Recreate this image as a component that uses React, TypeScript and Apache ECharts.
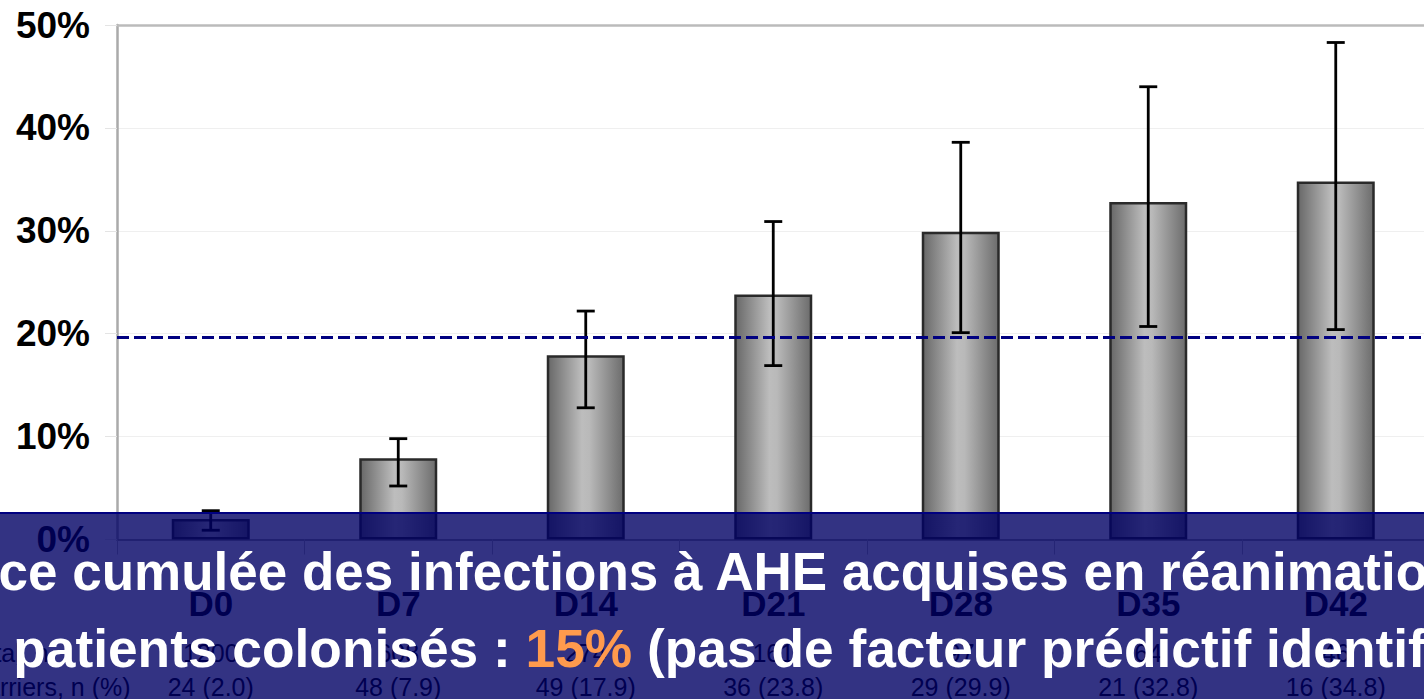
import React, { useEffect, useRef } from "react";
import * as echarts from "echarts";

const categories = ["D0", "D7", "D14", "D21", "D28", "D35", "D42"];
const incidence = [2.0, 7.9, 17.9, 23.8, 29.9, 32.8, 34.8];
const ciLower = [0.9, 5.2, 12.8, 16.9, 20.1, 20.7, 20.4];
const ciUpper = [2.8, 9.8, 22.2, 30.9, 38.6, 44.0, 48.3];
const totalN = ["1200", "608", "274", "161", "97", "64", "46"];
const carriers = ["24 (2.0)", "48 (7.9)", "49 (17.9)", "36 (23.8)", "29 (29.9)", "21 (32.8)", "16 (34.8)"];
const rowLabels = ["Total, n", "Carriers, n (%)"];
const thresholdValue = 19.7;
const yTicks = [0, 10, 20, 30, 40, 50];
const titleLine1 = "Incidence cumulée des infections à AHE acquises en réanimation";
const titleLine2a = "chez les patients colonisés : ";
const titleLine2b = "15%";
const titleLine2c = " (pas de facteur prédictif identifié)";

const FONT = "'Liberation Sans', Arial, Helvetica, sans-serif";
const W = 1430;

export default function App() {
  const ref = useRef<HTMLDivElement>(null);
  useEffect(() => {
    if (!ref.current) return;
    const chart = echarts.init(ref.current, null, { renderer: "svg" });
    const errData = categories.map((_, i) => [i, ciLower[i], ciUpper[i]]);
    const option: any = {
      animation: false,
      backgroundColor: "#ffffff",
      grid: { left: 117, top: 25, right: 0.5, bottom: 159, containLabel: false },
      xAxis: {
        type: "category",
        data: categories,
        boundaryGap: true,
        axisLine: { show: true, lineStyle: { color: "#888", width: 1.5 } },
        axisTick: { show: true, length: 15, lineStyle: { color: "#bbb", width: 1 } },
        axisLabel: {
          margin: 38,
          interval: 0,
          fontFamily: FONT,
          formatter: (v: string, i: number) =>
            `{d|${v}}\n{t|${totalN[i]}}\n{c|${carriers[i]}}`,
          rich: {
            d: { fontSize: 35, fontWeight: "bold", color: "#000", lineHeight: 52, fontFamily: FONT },
            t: { fontSize: 25, color: "#000", lineHeight: 47, fontFamily: FONT },
            c: { fontSize: 25, color: "#000", lineHeight: 20, fontFamily: FONT },
          },
        },
      },
      yAxis: {
        type: "value",
        min: yTicks[0],
        max: yTicks[yTicks.length - 1],
        interval: 10,
        axisLine: { show: true, lineStyle: { color: "#aaa", width: 2.5 } },
        axisTick: { show: true, length: 12, lineStyle: { color: "#e4e4e4", width: 1 } },
        splitLine: { show: true, lineStyle: { color: "#efefef", width: 1 } },
        axisLabel: {
          formatter: "{value}%",
          fontSize: 37,
          fontWeight: "bold",
          color: "#000",
          fontFamily: FONT,
          margin: 27,
        },
      },
      series: [
        {
          type: "bar",
          data: incidence,
          barWidth: 78,
          itemStyle: {
            color: new echarts.graphic.LinearGradient(0, 0, 1, 0, [
              { offset: 0, color: "#686868" },
              { offset: 0.45, color: "#bdbdbd" },
              { offset: 0.55, color: "#b9b9b9" },
              { offset: 1, color: "#6c6c6c" },
            ]),
            borderColor: "#2a2a2a",
            borderWidth: 2.5,
          },
          z: 2,
          markLine: {
            silent: true,
            symbol: "none",
            label: { show: false },
            z: 5,
            data: [
              { yAxis: thresholdValue, lineStyle: { color: "#000080", width: 3.2, type: [12, 5] } },
              { yAxis: 50, lineStyle: { color: "#bbbbbb", width: 2.5, type: "solid" } },
            ],
          },
        },
        {
          type: "custom",
          data: errData,
          encode: { x: 0, y: [1, 2] },
          z: 4,
          renderItem: (params: any, api: any) => {
            const x = api.value(0);
            const lo = api.coord([x, api.value(1)]);
            const hi = api.coord([x, api.value(2)]);
            const cap = 9;
            const style = { stroke: "#000", lineWidth: 2.8 };
            return {
              type: "group",
              children: [
                { type: "line", shape: { x1: lo[0], y1: lo[1], x2: hi[0], y2: hi[1] }, style },
                { type: "line", shape: { x1: hi[0] - cap, y1: hi[1], x2: hi[0] + cap, y2: hi[1] }, style },
                { type: "line", shape: { x1: lo[0] - cap, y1: lo[1], x2: lo[0] + cap, y2: lo[1] }, style },
              ],
            };
          },
        },
      ],
      graphic: [
        {
          type: "text",
          left: -32,
          top: 640,
          z: 10,
          style: { text: rowLabels[0], fontSize: 25, fill: "#000", fontFamily: FONT },
        },
        {
          type: "text",
          left: -32,
          top: 674,
          z: 10,
          style: { text: rowLabels[1], fontSize: 25, fill: "#000", fontFamily: FONT },
        },
        {
          type: "rect",
          z: 100,
          shape: { x: 0, y: 512, width: W, height: 200 },
          style: { fill: "rgba(0,0,100,0.8)" },
        },
        {
          type: "line",
          z: 101,
          shape: { x1: 0, y1: 513, x2: W, y2: 513 },
          style: { stroke: "#000080", lineWidth: 2 },
        },
        {
          type: "text",
          z: 102,
          x: -187,
          y: 571,
          style: {
            text: titleLine1,
            fontSize: 53,
            fontWeight: "bold",
            fill: "#ffffff",
            fontFamily: FONT,
            align: "left",
            verticalAlign: "middle",
          },
        },
        {
          type: "text",
          z: 102,
          x: -209,
          y: 648,
          style: {
            text: `{w|${titleLine2a}}{o|${titleLine2b}}{w|${titleLine2c}}`,
            fontFamily: FONT,
            align: "left",
            verticalAlign: "middle",
            rich: {
              w: { fontSize: 53.3, fontWeight: "bold", fill: "#ffffff", color: "#ffffff", fontFamily: FONT },
              o: { fontSize: 53.3, fontWeight: "bold", fill: "#ff9a4d", color: "#ff9a4d", fontFamily: FONT },
            },
          },
        },
      ],
    };
    chart.setOption(option);
    return () => chart.dispose();
  }, []);
  return (
    <div style={{ position: "absolute", left: 0, top: 0, width: 1424, height: 699, overflow: "hidden" }}>
      <div ref={ref} style={{ width: W, height: 699 }} />
    </div>
  );
}
